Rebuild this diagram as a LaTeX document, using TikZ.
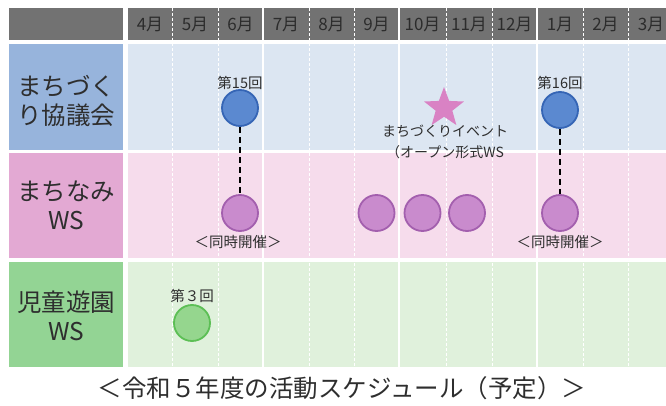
\documentclass[tikz,border=0pt]{standalone}
\usepackage{fontspec}
\setmainfont{Noto Sans CJK JP}
\usetikzlibrary{shapes.geometric}
\definecolor{hdr}{HTML}{727272}
\definecolor{hdrtxt}{HTML}{2C2C2C}
\definecolor{txt}{HTML}{2E2E2E}
\definecolor{lblA}{HTML}{97B4DC}
\definecolor{bgA}{HTML}{DCE6F2}
\definecolor{lblB}{HTML}{E3A9D3}
\definecolor{bgB}{HTML}{F6DCEC}
\definecolor{lblC}{HTML}{93D494}
\definecolor{bgC}{HTML}{E0F1DC}
\definecolor{dotA}{HTML}{5B89D0}
\definecolor{dotAb}{HTML}{3565B5}
\definecolor{dotB}{HTML}{C98BCD}
\definecolor{dotBb}{HTML}{A35FAE}
\definecolor{dotC}{HTML}{95D68E}
\definecolor{dotCb}{HTML}{5CBF55}
\definecolor{starc}{HTML}{D982C4}
\begin{document}
\begin{tikzpicture}[x=1pt,y=-1pt,
  rowlabel/.style={text=txt,font=\fontsize{24.5}{29}\selectfont,align=center,inner sep=0pt},
  month/.style={text=hdrtxt,font=\fontsize{17}{19}\selectfont,inner sep=0pt},
  small/.style={text=txt,font=\fontsize{14.5}{16}\selectfont,inner sep=0pt},
  dot/.style={circle,minimum size=36pt,inner sep=0pt,line width=1.8pt},
  bluedot/.style={dot,fill=dotA,draw=dotAb},
  pinkdot/.style={dot,fill=dotB,draw=dotBb},
  greendot/.style={dot,fill=dotC,draw=dotCb},
  solidsep/.style={white,line width=2pt},
  dashsep/.style={white,line width=1pt,dash pattern=on 3pt off 2pt},
  link/.style={black,line width=1.3pt,dash pattern=on 6pt off 4pt}]
\useasboundingbox (0,0) rectangle (666,406);
% header
\fill[hdr] (9,8) rectangle (123,40);
\fill[hdr] (128,8) rectangle (666,40);
% rows
\fill[lblA] (9,44) rectangle (123,150);
\fill[bgA] (128,44) rectangle (666,150);
\fill[lblB] (9,153) rectangle (123,258);
\fill[bgB] (128,153) rectangle (666,258);
\fill[lblC] (9,262) rectangle (123,367);
\fill[bgC] (128,262) rectangle (666,367);
% column separators
\foreach \b in {172,218,309,354,446,492,583,628}
  \draw[dashsep] (\b,8) -- (\b,367);
\foreach \b in {263,399,537}
  \draw[solidsep] (\b,8) -- (\b,367);
% month labels
\foreach \x/\m [count=\i] in {150/4,195/5,240.5/6,286/7,331.5/8,376.5/9,422.5/10,469/11,514.5/12,560/1,605.5/2,651/3}
  \node[month] (m\i) at (\x,25) {\m 月};
% row labels
\node[rowlabel] (rA) at (66,101) {まちづく\\り協議会};
\node[rowlabel] (rB) at (66,205) {まちなみ\\WS};
\node[rowlabel] (rC) at (66,316) {児童遊園\\WS};
% row A
\node[small] (t15) at (240,83) {第15回};
\node[bluedot] (c15) at (240,108) {};
\node[small] (t16) at (560,83) {第16回};
\node[bluedot] (c16) at (560,110) {};
\node[star,star points=5,star point ratio=2.4,minimum size=42pt,inner sep=0pt,fill=starc] (ev) at (444,108) {};
\node[small,font=\fontsize{14}{16}\selectfont] (evt1) at (445,131) {まちづくりイベント};
\node[small,font=\fontsize{14}{16}\selectfont] (evt2) at (445,152) {（オープン形式WS};
% row B
\node[pinkdot] (p6) at (240,213) {};
\node[pinkdot] (p9) at (376.5,213) {};
\node[pinkdot] (p10) at (422.5,213) {};
\node[pinkdot] (p11) at (467,213) {};
\node[pinkdot] (p1) at (560,213) {};
\node[small] (s6) at (238,242) {＜同時開催＞};
\node[small] (s1) at (560,242) {＜同時開催＞};
\draw[link] (c15.south) -- (p6.north);
\draw[link] (c16.south) -- (p1.north);
% row C
\node[small] (t3) at (192,296) {第３回};
\node[greendot] (g3) at (192,323) {};
% caption
\node[text=txt,font=\fontsize{24.5}{27}\selectfont,inner sep=0pt] (cap) at (342,388) {＜令和５年度の活動スケジュール（予定）＞};
\end{tikzpicture}
\end{document}
